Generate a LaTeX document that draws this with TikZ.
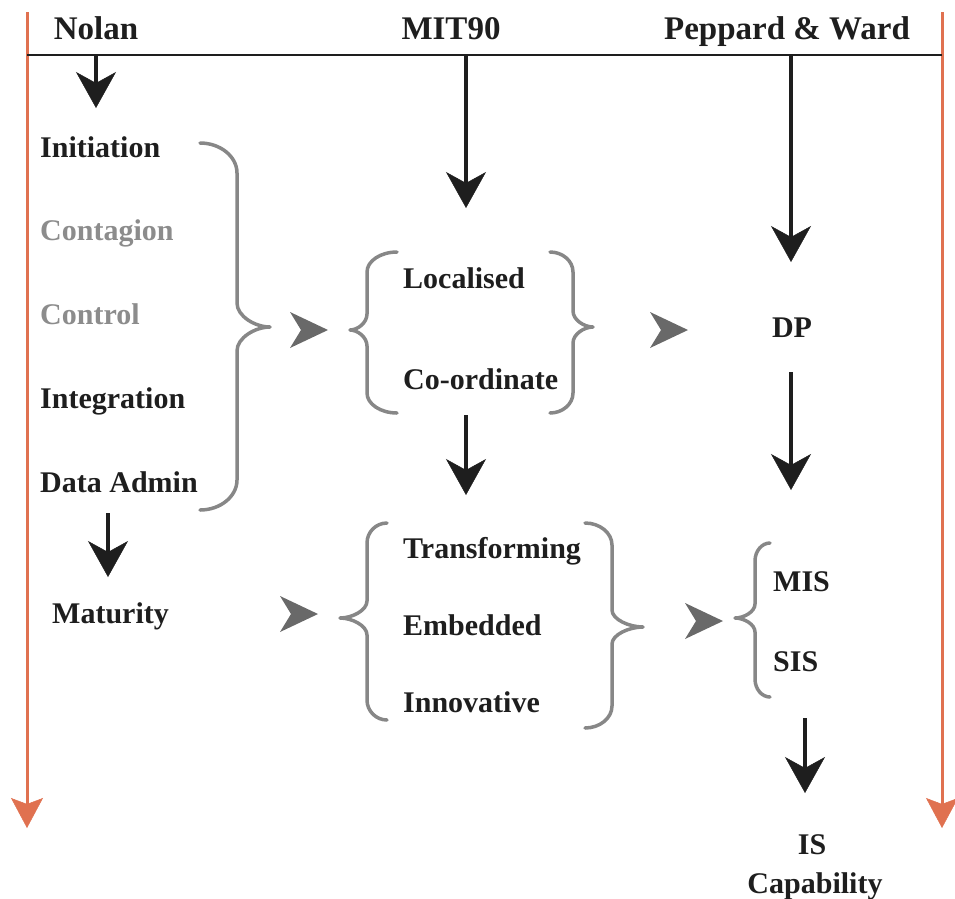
\documentclass[tikz,border=0pt]{standalone}
\usepackage{fontspec}
\setmainfont{Liberation Serif}
\usetikzlibrary{arrows.meta}

\definecolor{axisorange}{RGB}{224,113,80}
\definecolor{bracegray}{RGB}{135,135,135}
\definecolor{headgray}{RGB}{105,105,105}
\definecolor{fadedtext}{RGB}{140,140,140}
\definecolor{inkblack}{RGB}{30,30,30}

\tikzset{
  lbl/.style={font=\fontsize{30}{34}\selectfont\bfseries, inner sep=0pt, text=inkblack},
  hdr/.style={font=\fontsize{33}{38}\selectfont\bfseries, inner sep=0pt, text=inkblack, anchor=base},
  stage/.style={lbl, anchor=base west},
  faded/.style={text=fadedtext},
  flow/.style={line width=4pt, draw=inkblack,
    -{Stealth[length=36pt,width=40pt,inset=11pt,line width=0.5pt]}},
  axis/.style={line width=3pt, draw=axisorange,
    -{Stealth[length=30pt,width=32pt,inset=6pt,line width=0.5pt]}},
  curlyline/.style={draw=bracegray, line width=3.5pt, line cap=round, line join=round},
  ghead/.pic={\fill[headgray] (-19,-18) -- (19,0) -- (-19,18) -- (-8,0) -- cycle;}
}

% curly brace: #1 end x, #2 rail x, #3 tip x, #4 top y, #5 tip y, #6 bottom y,
% #7 end-curl radius, #8 tip-curl radius
\newcommand{\stagebrace}[8]{%
  \draw[curlyline] (#1,#4)
    .. controls ({#1+0.55*(#2-#1)},#4) and (#2,{#4+0.45*#7}) .. (#2,{#4+#7})
    -- (#2,{#5-#8})
    .. controls (#2,{#5-0.45*#8}) and ({#2+0.55*(#3-#2)},#5) .. (#3,#5)
    .. controls ({#2+0.55*(#3-#2)},#5) and (#2,{#5+0.45*#8}) .. (#2,{#5+#8})
    -- (#2,{#6-#7})
    .. controls (#2,{#6-0.45*#7}) and ({#1+0.55*(#2-#1)},#6) .. (#1,#6);}

\begin{document}
\begin{tikzpicture}[x=1pt,y=-1pt]
\useasboundingbox (0,0) rectangle (955,898);

% time axes and header rule
\coordinate (axL0) at (27,12);  \coordinate (axL1) at (27,828);
\coordinate (axR0) at (942,12); \coordinate (axR1) at (942,828);
\coordinate (ruleL) at (27,55); \coordinate (ruleR) at (942,55);
\draw[axis] (axL0) -- (axL1);
\draw[axis] (axR0) -- (axR1);
\draw[line width=2pt, draw=inkblack] (ruleL) -- (ruleR);

% column headings
\node[hdr] (nolan) at (96,39) {Nolan};
\node[hdr] (mit) at (451,39) {MIT90};
\node[hdr] (pw) at (787,39) {Peppard \& Ward};

% Nolan stages
\node[stage] (init) at (40,157) {Initiation};
\node[stage, faded] (cont) at (40,240) {Contagion};
\node[stage, faded] (ctrl) at (40,324) {Control};
\node[stage] (integ) at (40,408) {Integration};
\node[stage] (data) at (40,492) {Data Admin};
\node[stage] (matur) at (52,623) {Maturity};

% MIT90 levels
\node[stage] (local) at (403,288) {Localised};
\node[stage] (coord) at (403,389) {Co-ordinate};
\node[stage] (trans) at (403,558) {Transforming};
\node[stage] (embed) at (403,635) {Embedded};
\node[stage] (innov) at (403,712) {Innovative};

% Peppard & Ward eras
\node[lbl, anchor=base] (dp) at (792,337) {DP};
\node[stage] (mis) at (773,591) {MIS};
\node[stage] (sis) at (773,671) {SIS};
\node[lbl, anchor=base] (is) at (812,854) {IS};
\node[lbl, anchor=base] (capab) at (815,893) {Capability};

% braces grouping the stages
\stagebrace{200}{237}{270}{143}{327}{510}{30}{24}
\stagebrace{397}{367}{350}{252}{330}{413}{20}{16}
\stagebrace{550}{573}{593}{252}{327}{413}{20}{16}
\stagebrace{387}{367}{340}{523}{618}{720}{20}{17}
\stagebrace{585}{612}{643}{523}{627}{728}{22}{17}
\stagebrace{770}{755}{735}{543}{618}{697}{18}{14}

% grey correspondence heads
\pic at (309,330) {ghead};
\pic at (669,330) {ghead};
\pic at (299,614) {ghead};
\pic at (704,621) {ghead};

% black flow arrows
\coordinate (nolanA) at (96,56);   \coordinate (nolanB) at (96,108);
\coordinate (mitA) at (466,56);    \coordinate (mitB) at (466,208);
\coordinate (pwA) at (791,56);     \coordinate (pwB) at (791,262);
\coordinate (dpA) at (791,372);    \coordinate (dpB) at (791,490);
\coordinate (locA) at (466,415);   \coordinate (locB) at (466,495);
\coordinate (dataA) at (108,513);  \coordinate (dataB) at (108,577);
\coordinate (sisA) at (805,718);   \coordinate (sisB) at (805,793);
\draw[flow] (nolanA) -- (nolanB);
\draw[flow] (mitA) -- (mitB);
\draw[flow] (pwA) -- (pwB);
\draw[flow] (dpA) -- (dpB);
\draw[flow] (locA) -- (locB);
\draw[flow] (dataA) -- (dataB);
\draw[flow] (sisA) -- (sisB);
\end{tikzpicture}
\end{document}
